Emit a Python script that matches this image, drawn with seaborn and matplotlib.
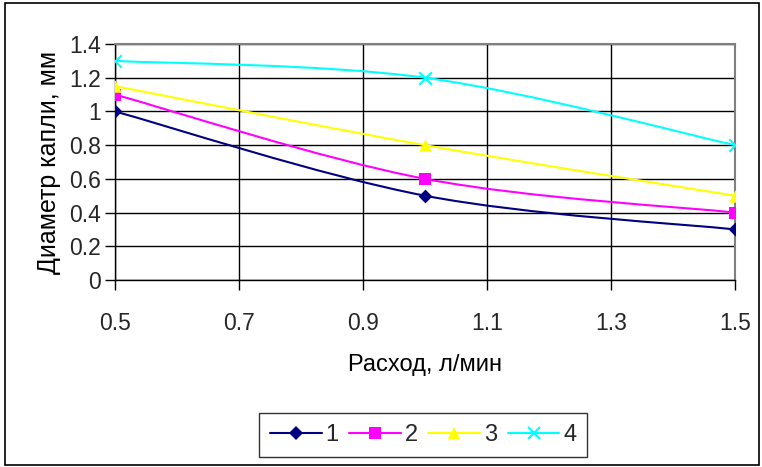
import numpy as np
import pandas as pd
import matplotlib
matplotlib.use("Agg")
import matplotlib.pyplot as plt
from matplotlib.path import Path
from matplotlib.patches import PathPatch, Rectangle
from matplotlib.lines import Line2D
import seaborn as sns

# ---- data ----
flow = [0.5, 1.0, 1.5]
s1 = [1.0, 0.5, 0.3]
s2 = [1.1, 0.6, 0.4]
s3 = [1.15, 0.8, 0.5]
s4 = [1.3, 1.2, 0.8]
series_names = ["1", "2", "3", "4"]
xticks = [0.5, 0.7, 0.9, 1.1, 1.3, 1.5]
yticks = [0, 0.2, 0.4, 0.6, 0.8, 1.0, 1.2, 1.4]
ytick_labels = ["0", "0.2", "0.4", "0.6", "0.8", "1", "1.2", "1.4"]

colors = ["#000080", "#FF00FF", "#FFFF00", "#00FFFF"]
markers = ["D", "s", "^", "x"]
msizes = [7, 8, 9, 9]

sns.set_theme(style="white")
plt.rcParams['font.family'] = ['Liberation Sans', 'DejaVu Sans']

df = pd.DataFrame({
    "flow": flow * 4,
    "d": s1 + s2 + s3 + s4,
    "series": sum([[n] * len(flow) for n in series_names], []),
})

fig = plt.figure(figsize=(7.62, 4.67), dpi=100)
ax = fig.add_axes([115 / 762, 1 - 280 / 467, (735 - 115) / 762, (280 - 44) / 467])

# figure border
fig.patches.append(Rectangle((5 / 762, 2 / 467), 754 / 762, 462 / 467, transform=fig.transFigure,
                             fill=False, edgecolor="black", linewidth=1.2))


def smooth_path(xs, ys):
    pts = np.column_stack([xs, ys])
    n = len(pts)
    verts = [pts[0]]
    codes = [Path.MOVETO]
    for i in range(n - 1):
        p0 = pts[i - 1] if i > 0 else pts[i]
        p1 = pts[i]
        p2 = pts[i + 1]
        p3 = pts[i + 2] if i + 2 < n else pts[i + 1]
        c1 = p1 + (p2 - p0) / 6.0
        c2 = p2 - (p3 - p1) / 6.0
        verts += [c1, c2, p2]
        codes += [Path.CURVE4] * 3
    return Path(verts, codes)


for name, col in zip(series_names, colors):
    sub = df[df.series == name]
    ax.add_patch(PathPatch(smooth_path(sub.flow.values, sub.d.values), fill=False,
                           edgecolor=col, linewidth=1.5, zorder=3))

for name, col, m, ms in zip(series_names, colors, markers, msizes):
    sub = df[df.series == name]
    if m == "x":
        sns.scatterplot(data=sub, x="flow", y="d", marker="x", color=col, s=ms ** 2,
                        linewidth=1.5, ax=ax, zorder=4, legend=False)
    else:
        sns.scatterplot(data=sub, x="flow", y="d", marker=m, color=col, s=ms ** 2,
                        linewidth=0, ax=ax, zorder=4, legend=False)

ax.set_xlim(0.5, 1.5)
ax.set_ylim(0, 1.4)
ax.set_xticks(xticks)
ax.set_xticklabels([f"{v:.1f}" for v in xticks])
ax.set_yticks(yticks)
ax.set_yticklabels(ytick_labels)
ax.grid(True, color="#000000", linewidth=1.0)
ax.set_axisbelow(True)
for sp in ["top", "right"]:
    ax.spines[sp].set_color("#808080")
    ax.spines[sp].set_linewidth(1.5)
for sp in ["left", "bottom"]:
    ax.spines[sp].set_color("#000000")
    ax.spines[sp].set_linewidth(1.0)
ax.tick_params(axis="both", direction="out", length=7, width=1, color="black",
               labelsize=16.5, left=True, bottom=True)
ax.tick_params(axis="y", pad=3)
ax.tick_params(axis="x", pad=16)
ax.set_xlabel("Расход, л/мин", fontsize=17, labelpad=14)
ax.set_ylabel("Диаметр капли, мм", fontsize=18, labelpad=6)
ax.xaxis.label.set_color("black")
ax.yaxis.label.set_color("black")

handles = []
for name, col, m, ms in zip(series_names, colors, markers, msizes):
    if m == "x":
        h = Line2D([], [], color=col, marker="x", markersize=ms, markeredgewidth=1.5, linewidth=1.5)
    else:
        h = Line2D([], [], color=col, marker=m, markersize=ms, markeredgewidth=0, linewidth=1.5)
    handles.append(h)
leg = fig.legend(handles, series_names, loc="center", bbox_to_anchor=(423 / 762, 1 - 435 / 467),
                 ncol=4, fontsize=17, frameon=True, fancybox=False, handlelength=2.2,
                 handletextpad=0.15, columnspacing=0.45, borderpad=0.45)
leg.get_frame().set_edgecolor("black")
leg.get_frame().set_linewidth(1.0)

fig.savefig("out.png", dpi=100)
